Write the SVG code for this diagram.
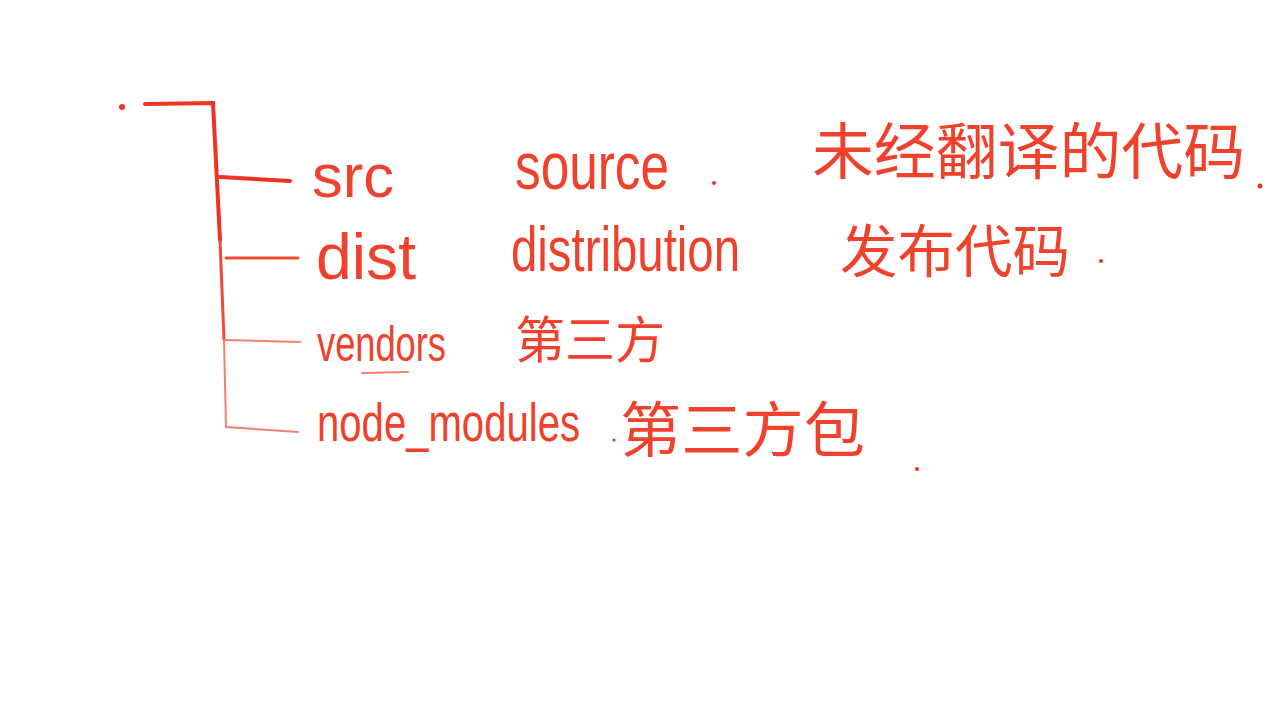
<svg xmlns="http://www.w3.org/2000/svg" width="1266" height="715" viewBox="0 0 1266 715">
<style>
.t{font-family:"Liberation Sans","Noto Sans",sans-serif;fill:#f0412c}
.c{font-family:"Noto Sans CJK SC","Liberation Sans",sans-serif;fill:#f0412c}
.thick{stroke:#ee3322;stroke-width:4;fill:none;stroke-linecap:round}
.mid{stroke:#f04a35;stroke-width:3;fill:none;stroke-linecap:round}
.thin{stroke:#f3806f;stroke-width:2;fill:none;stroke-linecap:round}
.dot{fill:#ee3322}
</style>
<rect width="1266" height="715" fill="#ffffff"/>
<g id="connectors">
<path class="thick" d="M145,104 L213,103 L220,240"/>
<path class="thick" d="M220,177 L290,181"/>
<path class="mid" d="M220,240 L224,340"/>
<path class="mid" d="M226,258 L298,258"/>
<path class="thin" d="M224,340 L300,342"/>
<path class="thin" d="M224,340 L226,427 L298,432"/>
<path class="thin" d="M362,373 L408,372"/>
</g>
<g id="root"><circle class="dot" cx="122" cy="107" r="3"/></g>
<g id="src">
<text class="t" x="312" y="197" font-size="62" textLength="82" lengthAdjust="spacingAndGlyphs">src</text>
<text class="t" transform="translate(515,189) scale(1,1.3)" font-size="51" textLength="154" lengthAdjust="spacingAndGlyphs">source</text>
<circle class="dot" cx="714" cy="183" r="2"/>
<text class="c" x="812" y="174" font-size="61" textLength="433" lengthAdjust="spacingAndGlyphs">未经翻译的代码</text>
<circle class="dot" cx="1260" cy="186" r="2.5"/>
</g>
<g id="dist">
<text class="t" x="316" y="279" font-size="64" textLength="100" lengthAdjust="spacingAndGlyphs">dist</text>
<text class="t" transform="translate(511,271) scale(1,1.35)" font-size="47" textLength="229" lengthAdjust="spacingAndGlyphs">distribution</text>
<text class="c" x="840" y="272" font-size="57" textLength="230" lengthAdjust="spacingAndGlyphs">发布代码</text>
<circle class="dot" cx="1101" cy="261" r="2"/>
</g>
<g id="vendors">
<text class="t" transform="translate(317,361) scale(1,1.4)" font-size="36" textLength="129" lengthAdjust="spacingAndGlyphs">vendors</text>
<text class="c" x="515" y="358" font-size="50" textLength="150" lengthAdjust="spacingAndGlyphs">第三方</text>
</g>
<g id="node_modules">
<text class="t" transform="translate(317,441) scale(1,1.4)" font-size="39" textLength="263" lengthAdjust="spacingAndGlyphs">node_modules</text>
<circle class="dot" cx="614" cy="440" r="1.5"/>
<text class="c" x="620" y="452" font-size="60" textLength="245" lengthAdjust="spacingAndGlyphs">第三方包</text>
<circle class="dot" cx="917" cy="469" r="2"/>
</g>
</svg>
